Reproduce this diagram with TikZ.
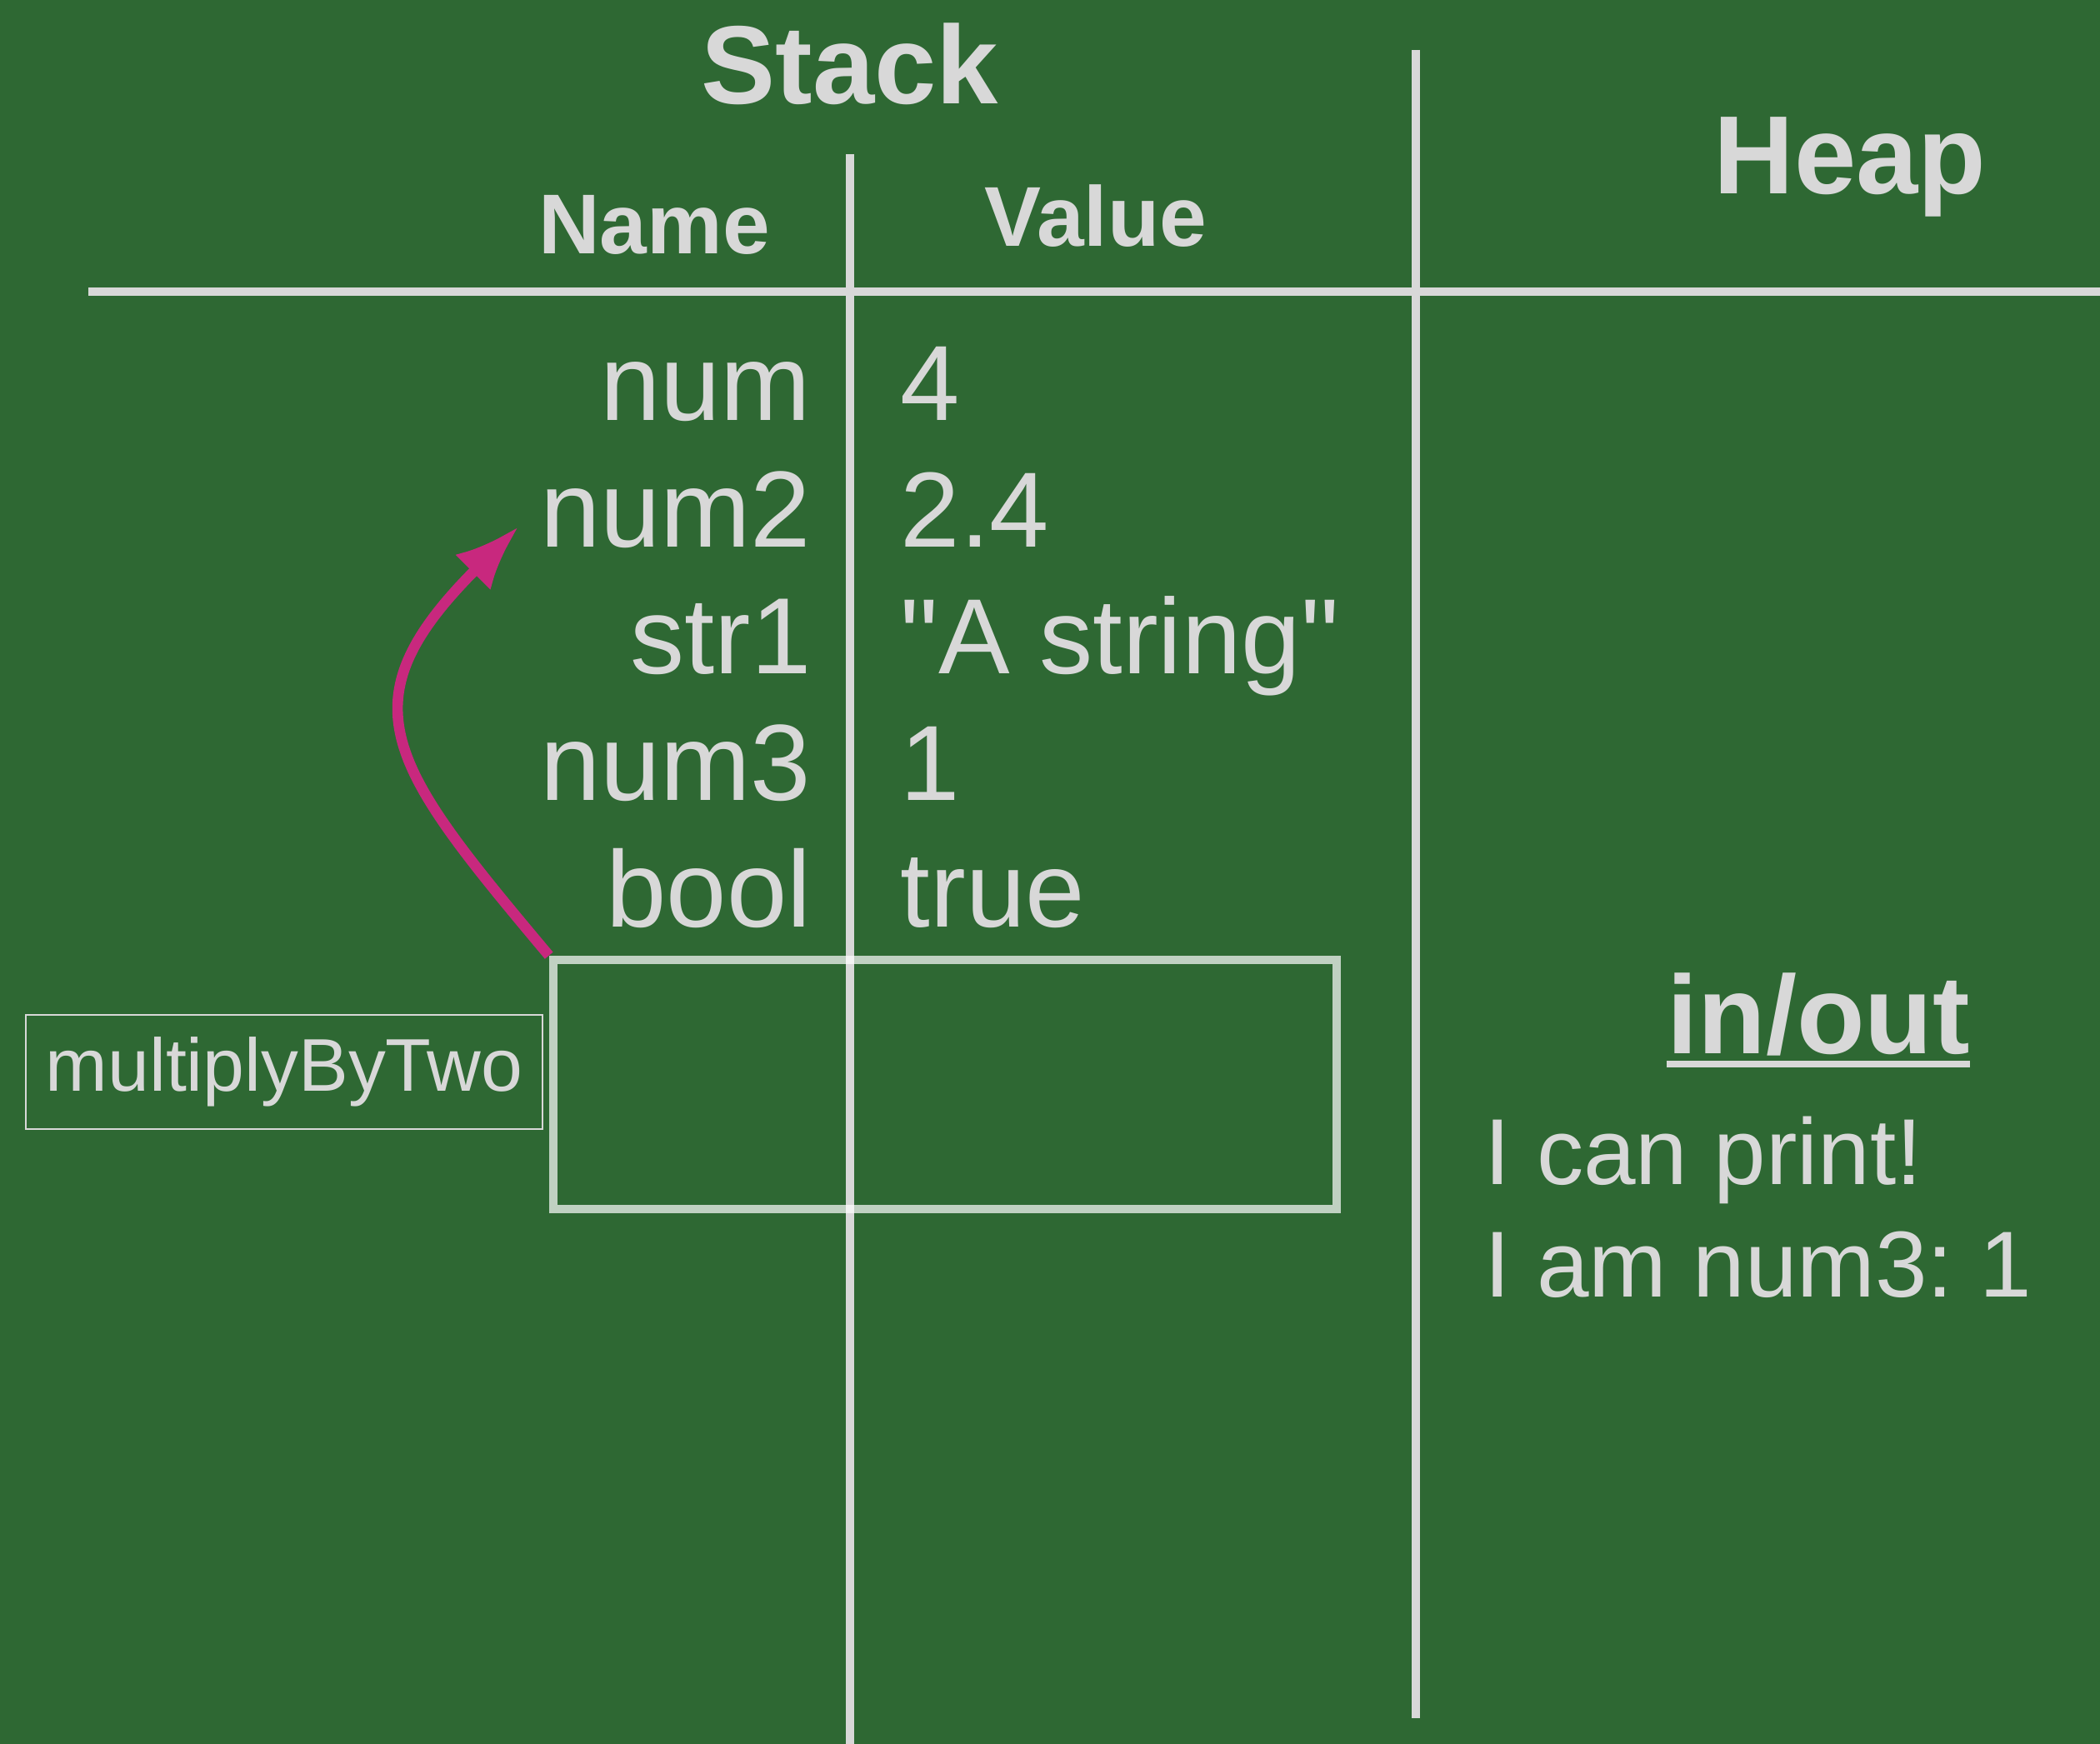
\documentclass[tikz,border=0pt]{standalone}
\usepackage{fontspec}
\setmainfont{Liberation Sans}[Ligatures=TeXOff]
\usetikzlibrary{arrows.meta}
\frenchspacing
\definecolor{board}{RGB}{46,104,51}
\definecolor{chalk}{RGB}{216,216,216}
\definecolor{callpink}{RGB}{200,40,126}
\tikzset{
  chalkline/.style={draw=chalk, line width=3pt},
  varname/.style={text=chalk, anchor=base east, inner sep=0pt, font=\fontsize{37pt}{40pt}\selectfont},
  varval/.style={text=chalk, anchor=base west, inner sep=0pt, font=\fontsize{36.5pt}{40pt}\selectfont},
  heading/.style={text=chalk, anchor=base, inner sep=0pt, font=\bfseries\fontsize{38pt}{40pt}\selectfont},
  colhead/.style={text=chalk, anchor=base, inner sep=0pt, font=\bfseries\fontsize{29pt}{32pt}\selectfont},
  printout/.style={text=chalk, anchor=base west, inner sep=0pt, font=\fontsize{32pt}{36pt}\selectfont}
}
\begin{document}
\begin{tikzpicture}
\fill[board] (0,0) rectangle (25.2,20.93);
\useasboundingbox (0,0) rectangle (25.2,20.93);
\draw[chalkline] (1.06,17.43) -- (25.2,17.43);
\draw[chalkline] (10.20,19.08) -- (10.20,0);
\draw[chalkline] (16.99,20.33) -- (16.99,0.31);
\node[heading] (stack) at (10.20,19.68) {Stack};
\node[heading] (heap) at (22.20,18.60) {Heap};
\node[colhead] (name) at (7.85,17.88) {Name};
\node[colhead] (value) at (13.15,17.97) {Value};
\node[varname] (n1) at (9.74,15.88) {num};
\node[varname] (n2) at (9.74,14.36) {num2};
\node[varname] (n3) at (9.74,12.84) {str1};
\node[varname] (n4) at (9.74,11.32) {num3};
\node[varname] (n5) at (9.74,9.80) {bool};
\node[varval] (v1) at (10.80,15.88) {4};
\node[varval] (v2) at (10.80,14.36) {2.4};
\node[varval] (v3) at (10.80,12.84) {"A string"};
\node[varval] (v4) at (10.80,11.32) {1};
\node[varval] (v5) at (10.80,9.80) {true};
\node[draw=white, draw opacity=.7, line width=3pt, minimum width=9.4cm, minimum height=2.99cm, inner sep=0pt] (frame) at (11.34,7.915) {};
\node[draw=chalk, line width=.6pt, text=chalk, minimum width=6.2cm, minimum height=1.37cm, font=\fontsize{25.5pt}{28pt}\selectfont] (call) at (3.41,8.065) {multiplyByTwo};
\draw[>={Latex[length=22pt,width=17pt]}, ->, callpink, line width=3.6pt] (frame.north west) .. controls +(130:3.0) and +(225:3.0) .. ([xshift=-0.25cm,yshift=0.25cm]n2.base west);
\node[heading] (io) at (21.82,8.28) {in/out};
\draw[chalk, line width=2pt] ([yshift=-0.12cm]io.base west) -- ([yshift=-0.12cm]io.base east);
\node[printout] (out1) at (17.81,6.71) {I can print!};
\node[printout] (out2) at (17.81,5.36) {I am num3: 1};
\end{tikzpicture}
\end{document}
